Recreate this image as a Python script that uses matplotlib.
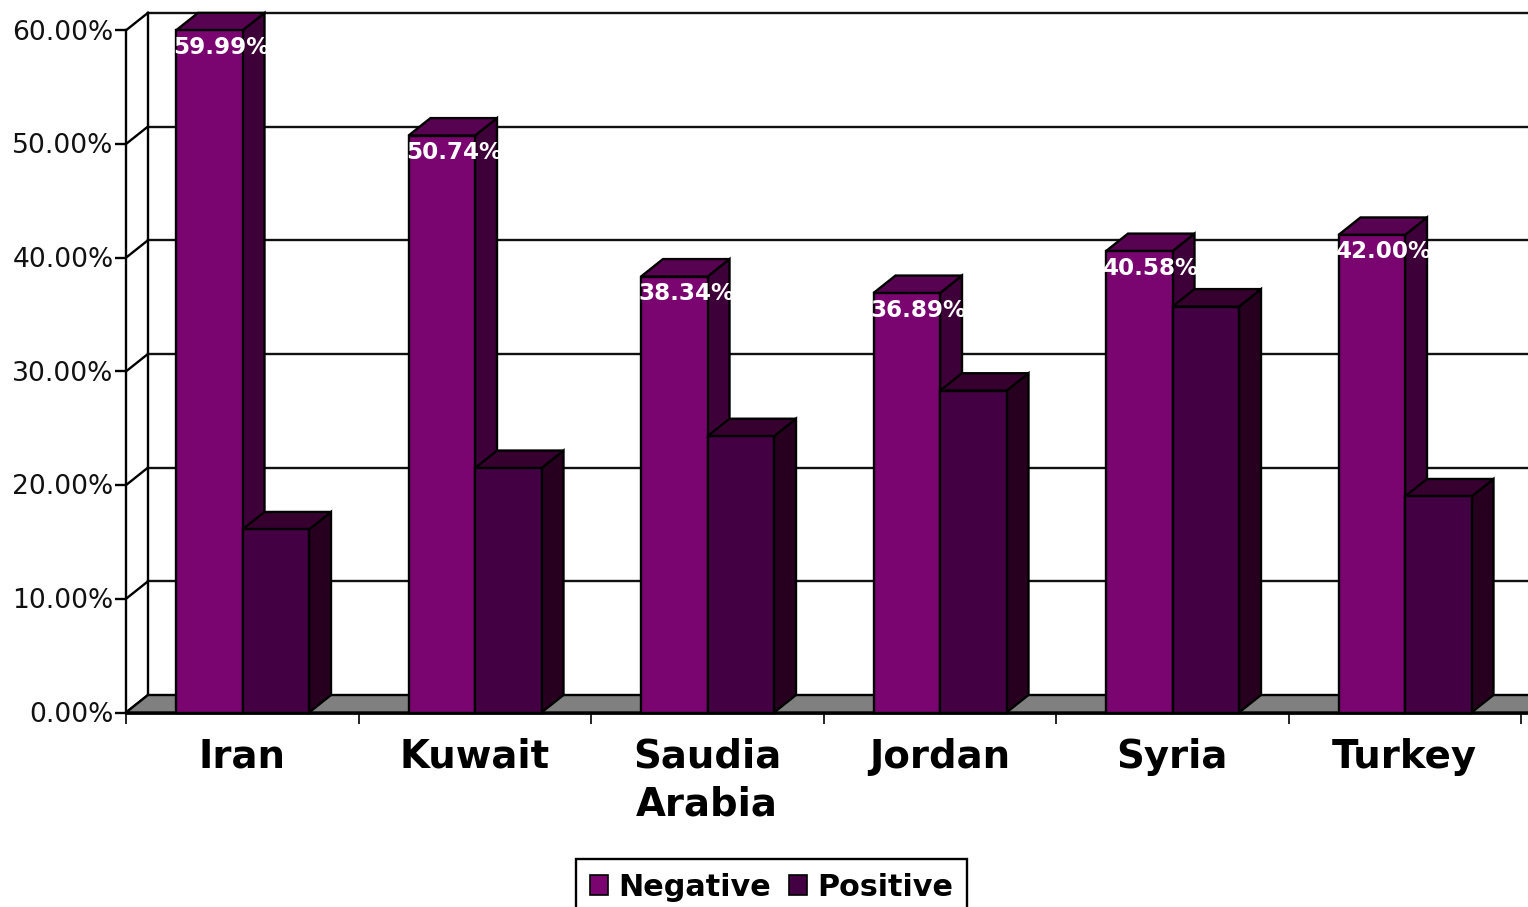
import matplotlib
matplotlib.use('Agg')
import matplotlib.pyplot as plt
from matplotlib.patches import Polygon, Rectangle
from matplotlib.transforms import ScaledTranslation

# values
countries = ['Iran', 'Kuwait', 'Saudia\nArabia', 'Jordan', 'Syria', 'Turkey']
negative = [59.99, 50.74, 38.34, 36.89, 40.58, 42.00]
positive = [16.1, 21.5, 24.3, 28.3, 35.7, 19.0]
y_ticks = [0, 10, 20, 30, 40, 50, 60]

W, H = 1528, 907
x0_px, y0_px = 126, 712.5
cat_px = 232.5
pct_px = 11.37

# depth of the fake 3d box, in data units
dx = 22 / cat_px
dy = 17.5 / pct_px
bar_w = 66.5 / cat_px
bar_start = 50 / cat_px
lw = 1.7

fig = plt.figure(figsize=(W / 100, H / 100), dpi=100)
ax = fig.add_axes([0, 0, 1, 1])
ax.set_xlim(-x0_px / cat_px, (W - x0_px) / cat_px)
ax.set_ylim(-(H - y0_px) / pct_px, y0_px / pct_px)


def box(x, w, h, front, top, side, z):
    ax.add_patch(Polygon([(x + w, 0), (x + w + dx, dy), (x + w + dx, h + dy), (x + w, h)],
                         fc=side, ec='black', lw=lw, zorder=z))
    ax.add_patch(Polygon([(x, h), (x + dx, h + dy), (x + w + dx, h + dy), (x + w, h)],
                         fc=top, ec='black', lw=lw, zorder=z))
    ax.add_patch(Rectangle((x, 0), w, h, fc=front, ec='black', lw=lw, zorder=z))


n = len(countries)
right = n + 1

# back wall, side wall and grey floor
for v in y_ticks:
    ax.plot([0, dx], [v, v + dy], color='black', lw=lw, zorder=1)
    if v > 0:
        ax.plot([dx, right], [v + dy, v + dy], color='#111111', lw=lw, zorder=1)
ax.plot([dx, dx], [dy, 60 + dy], color='black', lw=lw, zorder=1)
ax.add_patch(Polygon([(0, 0), (dx, dy), (right, dy), (right, 0)],
                     fc='#808080', ec='black', lw=lw, zorder=1))

for i in range(n):
    x = i + bar_start
    box(x, bar_w, negative[i], '#7B0570', '#580352', '#3E0038', 3)
    box(x + bar_w, bar_w, positive[i], '#430043', '#36002F', '#27001F', 4)
    ax.text(x + bar_w / 2 + 0.052, negative[i] - 17 / pct_px, '%.2f%%' % negative[i],
            color='white', fontsize=16.6, fontweight='bold', ha='center', va='center', zorder=6)

# axes
for s in ['top', 'right']:
    ax.spines[s].set_visible(False)
ax.spines['left'].set_position(('data', 0))
ax.spines['left'].set_bounds(0, 60)
ax.spines['bottom'].set_position(('data', 0))
ax.spines['bottom'].set_bounds(0, n + 1)
ax.spines['left'].set_linewidth(lw)
ax.spines['bottom'].set_linewidth(2)
ax.spines['left'].set_zorder(7)
ax.spines['bottom'].set_zorder(7)
ax.patch.set_visible(False)

ax.set_yticks(y_ticks)
ax.set_yticklabels(['%.2f%%' % v for v in y_ticks], fontsize=19.1, color='#111111')
ax.tick_params(axis='y', length=8, width=lw, pad=1)
for label in ax.get_yticklabels():
    label.set_transform(label.get_transform() + ScaledTranslation(0, 0.5 / 72, fig.dpi_scale_trans))

ax.set_xticks(range(n + 1))
ax.set_xticklabels([])
ax.tick_params(axis='x', which='major', length=8, width=1.2)
ax.set_xticks([i + 0.5 for i in range(n)], minor=True)
ax.set_xticklabels(countries, minor=True, fontsize=27.8, fontweight='bold', linespacing=1.34)
ax.tick_params(axis='x', which='minor', length=0, pad=18)

handles = [Rectangle((0, 0), 1, 1, fc='#7B0570', ec='black', lw=1.2),
           Rectangle((0, 0), 1, 1, fc='#430043', ec='black', lw=1.2)]
leg = ax.legend(handles, ['Negative', 'Positive'], ncols=2, loc='upper left',
                bbox_to_anchor=(576 / W, 1 - 859 / H), prop={'size': 21.8, 'weight': 'bold'},
                frameon=True, fancybox=False, framealpha=1, edgecolor='black',
                handlelength=0.6, handleheight=0.6, handletextpad=0.33, columnspacing=0.62,
                borderpad=0.45, borderaxespad=0)
leg.get_frame().set_linewidth(1.7)

fig.savefig('out.png', dpi=100)
